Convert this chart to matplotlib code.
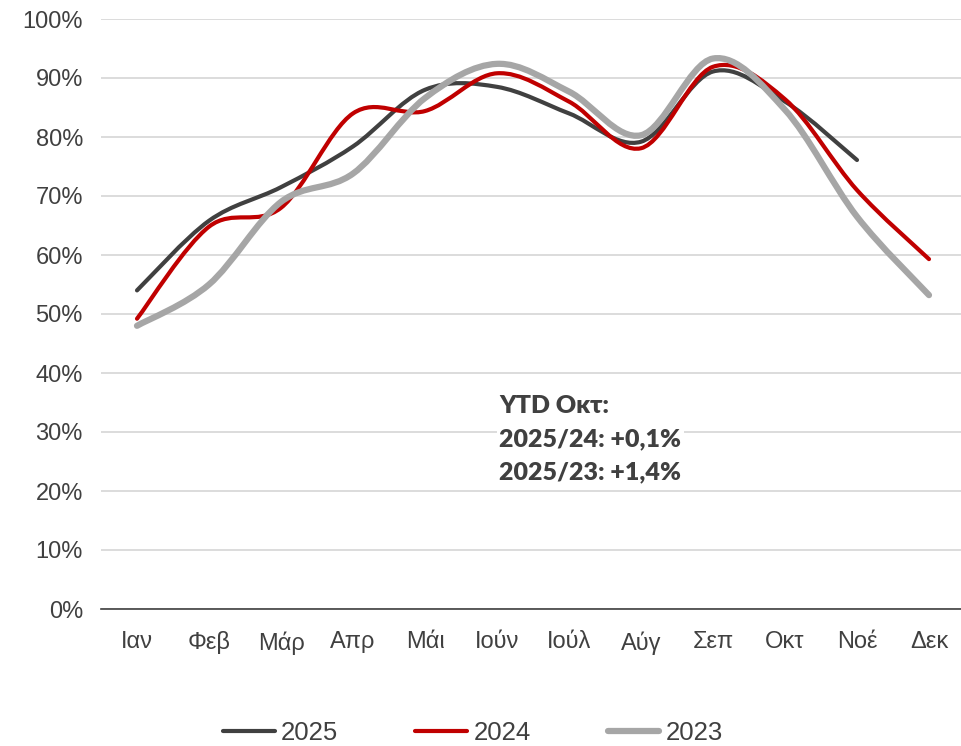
import matplotlib
matplotlib.use("Agg")
import matplotlib.pyplot as plt
from matplotlib.path import Path
from matplotlib.patches import PathPatch
from matplotlib.lines import Line2D
from matplotlib.ticker import PercentFormatter

months = ["Ιαν", "Φεβ", "Μάρ", "Απρ", "Μάι", "Ιούν", "Ιούλ", "Αύγ", "Σεπ", "Οκτ", "Νοέ", "Δεκ"]
occ_2025 = [54.0, 65.8, 71.5, 78.4, 88.0, 88.5, 84.0, 79.2, 91.1, 86.0, 76.1]
occ_2024 = [49.2, 64.8, 68.0, 84.0, 84.4, 90.8, 86.0, 78.1, 91.9, 86.4, 71.0, 59.3]
occ_2023 = [48.0, 55.0, 69.0, 73.8, 86.6, 92.4, 87.7, 80.3, 93.3, 84.6, 66.5, 53.2]

series = [
    ("2025", occ_2025, "#404040", 3.0),
    ("2024", occ_2024, "#C00000", 3.0),
    ("2023", occ_2023, "#A6A6A6", 4.5),
]


def smooth_path(ys):
    # courbe lissée type Excel (Bezier Catmull-Rom) passant par chaque point
    pts = [(i, y / 100) for i, y in enumerate(ys)]
    n = len(pts)
    verts = [pts[0]]
    codes = [Path.MOVETO]
    for i in range(n - 1):
        p0 = pts[max(i - 1, 0)]
        p1 = pts[i]
        p2 = pts[i + 1]
        p3 = pts[min(i + 2, n - 1)]
        c1 = (p1[0] + (p2[0] - p0[0]) / 6, p1[1] + (p2[1] - p0[1]) / 6)
        c2 = (p2[0] - (p3[0] - p1[0]) / 6, p2[1] - (p3[1] - p1[1]) / 6)
        verts += [c1, c2, p2]
        codes += [Path.CURVE4] * 3
    return Path(verts, codes)


fig = plt.figure(figsize=(9.61, 7.46), dpi=100)
ax = fig.add_axes([101 / 961, 137 / 746, 864 / 961, 590 / 746])

for label, ys, color, lw in series:
    patch = PathPatch(smooth_path(ys), facecolor="none", edgecolor=color,
                      linewidth=lw, capstyle="round", joinstyle="round", zorder=3)
    ax.add_patch(patch)

ax.set_xlim(-0.5, 11.5)
ax.set_ylim(0, 1)
ax.set_yticks([i / 10 for i in range(11)])
ax.yaxis.set_major_formatter(PercentFormatter(1.0, decimals=0))
ax.set_xticks(range(12))
ax.set_xticklabels(months)
ax.grid(axis="y", color="#D9D9D9", linewidth=1.3)
ax.set_axisbelow(True)
for s in ["top", "right", "left"]:
    ax.spines[s].set_visible(False)
ax.spines["bottom"].set_color("#404040")
ax.spines["bottom"].set_linewidth(1.2)
ax.tick_params(length=0, labelsize=17, labelcolor="#404040")
ax.tick_params(axis="x", pad=16)
ax.tick_params(axis="y", pad=13)
for t in ax.get_xticklabels() + ax.get_yticklabels():
    t.set_fontfamily("Liberation Sans")

ax.text(0.461, 0.362, "YTD Οκτ:\n2025/24: +0,1%\n2025/23: +1,4%",
        transform=ax.transAxes, fontsize=18, fontweight="heavy", family="Lato",
        color="#404040", linespacing=1.6, va="top", ha="left",
        bbox=dict(facecolor="white", edgecolor="none", pad=2), zorder=4)

handles = [Line2D([0], [0], color=c, linewidth=lw, solid_capstyle="round")
           for _, _, c, lw in series]
fig.legend(handles, [s[0] for s in series], loc="center", bbox_to_anchor=(473 / 961, 13 / 746),
           ncol=3, frameon=False, handlelength=2.0, handletextpad=0.25, columnspacing=3.0,
           prop={"family": "Liberation Sans", "size": 18.5}, labelcolor="#404040")

fig.savefig("out.png", dpi=100)
